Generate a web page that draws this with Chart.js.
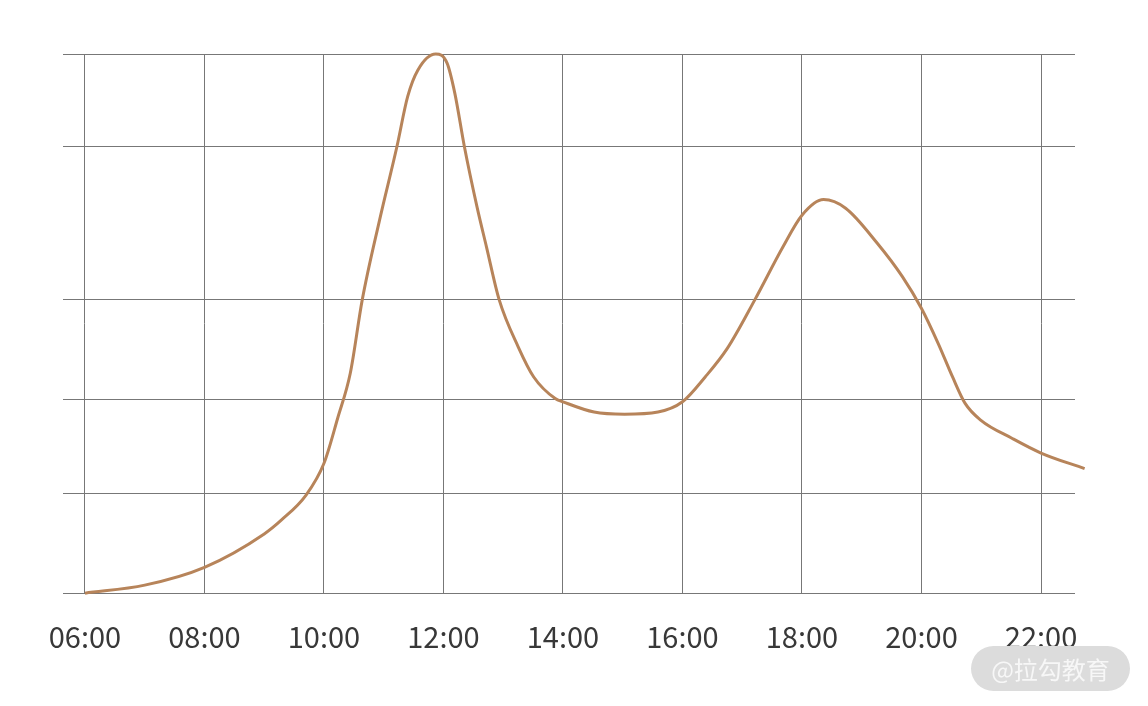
<!DOCTYPE html>
<html>
<head>
<meta charset="utf-8">
<script src="https://cdn.jsdelivr.net/npm/chart.js@4/dist/chart.umd.min.js"></script>
<style>
    body { margin: 0; background: #fff; }
    #wrap { position: relative; width: 1148px; height: 706px; }
    .mark {
        position: absolute; left: 971px; top: 646px; width: 159px; height: 45px;
        border-radius: 23px; background: #dcdcdc; color: #f7f7f7;
        font: 24px "Noto Sans CJK SC", sans-serif; line-height: 45px; text-align: center;
    }
</style>
</head>
<body>
<div id="wrap">
    <canvas id="flowChart"></canvas>
    <div class="mark">@拉勾教育</div>
</div>
<script>
// hours of the day and relative flow
const hours = [6, 7, 8, 9, 9.28, 9.7, 10, 10.23, 10.44, 10.64, 10.93, 11.22, 11.4, 11.57, 11.87,
    12.06, 12.19, 12.35, 12.56, 12.72, 12.93, 13.25, 13.51, 13.87, 14, 14.52, 15.03, 15.59, 16,
    16.38, 16.75, 17.21, 17.68, 18, 18.36, 18.73, 19.26, 19.68, 20, 20.28, 20.52, 20.73, 20.99,
    21.52, 22, 22.73];
const flow = [0, 1.5, 4.8, 11.0, 13.5, 18.2, 24.1, 32.5, 40.8, 54.4, 69.2, 82.8, 92.1, 97, 100,
    98.3, 92.7, 82.8, 71.7, 64.2, 54.5, 45.7, 40.1, 36.1, 35.5, 33.6, 33.2, 33.6, 35.5,
    40.1, 45.4, 54.4, 64.2, 70.1, 73, 71.4, 64.9, 58.7, 52.8, 46.3, 40.1, 35.2, 32.1,
    28.7, 26, 23.1];

const xTicks = [6, 8, 10, 12, 14, 16, 18, 20, 22];
const xLabels = ['06:00', '08:00', '10:00', '12:00', '14:00', '16:00', '18:00', '20:00', '22:00'];
const yTicks = [0, 18.4, 36, 54.5, 82.9, 100];

const gridColor = '#777777';

new Chart(document.getElementById('flowChart'), {
    type: 'line',
    data: {
        datasets: [{
            data: hours.map((h, i) => ({ x: h, y: flow[i] })),
            borderColor: '#b7845a',
            borderWidth: 3,
            pointRadius: 0,
            cubicInterpolationMode: 'monotone',
            clip: false
        }]
    },
    options: {
        responsive: true,
        maintainAspectRatio: false,
        animation: false,
        layout: { padding: { left: 63, right: 73, top: 54, bottom: 26 } },
        plugins: { legend: { display: false }, tooltip: { enabled: false } },
        scales: {
            x: {
                type: 'linear',
                min: 5.632,
                max: 22.569,
                afterBuildTicks: axis => { axis.ticks = xTicks.map(v => ({ value: v })); },
                grid: { color: gridColor, lineWidth: 1, drawTicks: false },
                border: { display: false },
                ticks: {
                    padding: 26,
                    maxRotation: 0,
                    autoSkip: false,
                    color: '#383838',
                    font: { family: '"Noto Sans CJK SC", sans-serif', size: 29 },
                    callback: (v) => xLabels[xTicks.indexOf(v)]
                }
            },
            y: {
                min: 0,
                max: 100,
                afterBuildTicks: axis => { axis.ticks = yTicks.map(v => ({ value: v })); },
                grid: { color: gridColor, lineWidth: 1, drawTicks: false },
                border: { display: false },
                ticks: { display: false }
            }
        }
    }
});
</script>
</body>
</html>
